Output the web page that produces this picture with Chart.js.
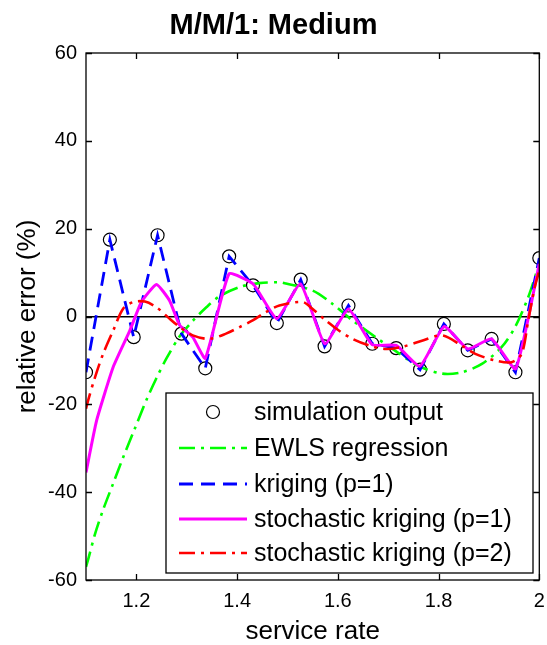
<!DOCTYPE html>
<html><head><meta charset="utf-8">
<script src="https://cdn.jsdelivr.net/npm/chart.js@4.4.0/dist/chart.umd.min.js"></script>
<style>html,body{margin:0;padding:0;background:#fff}canvas{display:block}</style>
</head><body>
<canvas id="c" width="547" height="645"></canvas>
<script>
// ---- data ----
const xSim = [1.1, 1.1474, 1.1947, 1.2421, 1.2895, 1.3368, 1.3842, 1.4316, 1.4789, 1.5263, 1.5737, 1.6211, 1.6684, 1.7158, 1.7632, 1.8105, 1.8579, 1.9053, 1.9526, 2.0];
const ySim = [-12.7, 17.5, -4.7, 18.5, -3.9, -11.8, 13.7, 7.1, -1.5, 8.4, -6.8, 2.5, -6.2, -7.2, -12.1, -1.7, -7.7, -5.1, -12.7, 13.3];
const yKrig = [-12.7, 17.5, -4.7, 18.5, -3.9, -11.8, 13.7, 7.1, -1.5, 8.4, -6.8, 2.5, -6.2, -7.2, -12.1, -1.7, -7.7, -5.1, -12.7, 13.3];

const xEwls = [1.1, 1.105, 1.118, 1.134, 1.154, 1.174, 1.197, 1.22, 1.24, 1.26, 1.286, 1.312, 1.339, 1.365, 1.405, 1.444, 1.484, 1.497, 1.55, 1.589, 1.629, 1.675, 1.715, 1.761, 1.807, 1.846, 1.886, 1.925, 1.952, 1.978, 2.0];
const yEwls = [-57, -55, -49.5, -44, -38, -32, -25.5, -19, -14, -9.5, -4.5, -1, 2.1, 4.6, 6.7, 7.6, 7.8, 7.5, 5.9, 2.9, -0.9, -4.7, -7.9, -11.3, -13.0, -12.7, -10.8, -7.0, -2.4, 4.4, 12];

const xSk1 = [1.1, 1.121, 1.154, 1.187, 1.21, 1.24, 1.266, 1.286, 1.312, 1.337, 1.384, 1.432, 1.479, 1.526, 1.574, 1.621, 1.668, 1.716, 1.763, 1.811, 1.858, 1.905, 1.953, 2.0];
const ySk1 = [-35.5, -23.7, -11.5, -3.2, 3.3, 7.3, 3.6, -2.0, -4.7, -9.5, 9.7, 7.4, -0.5, 7.4, -6.2, 1.7, -6.4, -6.6, -11.3, -2.3, -7.4, -5.1, -11.9, 12.0];

const xSk2 = [1.1, 1.1045, 1.118, 1.134, 1.154, 1.174, 1.194, 1.217, 1.24, 1.263, 1.286, 1.312, 1.345, 1.378, 1.405, 1.431, 1.457, 1.484, 1.53, 1.55, 1.576, 1.602, 1.629, 1.662, 1.695, 1.728, 1.767, 1.807, 1.846, 1.873, 1.912, 1.945, 1.965, 1.978, 1.991, 2.0];
const ySk2 = [-21, -19, -13.8, -8.5, -3.2, 1.8, 3.3, 3.4, 2.1, -0.2, -2.4, -4.3, -5.1, -3.9, -2.4, -0.9, 1.0, 2.5, 3.3, 1.7, -0.9, -3.2, -5.1, -6.6, -7.4, -6.9, -5.5, -4.3, -6.6, -8.5, -10.0, -10.4, -8.5, -0.9, 6.7, 10.5];

const xTicks = [1.2, 1.4, 1.6, 1.8, 2];
const yTicks = [-60, -40, -20, 0, 20, 40, 60];
const seriesNames = ['simulation output', 'EWLS regression', 'kriging (p=1)', 'stochastic kriging (p=1)', 'stochastic kriging (p=2)'];

const pts = (xs, ys) => xs.map((v, i) => ({x: v, y: ys[i]}));
const FONT = "'Liberation Sans', Arial, Helvetica, sans-serif";

const framePlugin = {
  id: 'frameAndLegend',
  afterDatasetsDraw(chart) {
    const {ctx, chartArea: a, scales: {x, y}} = chart;
    ctx.save();
    ctx.strokeStyle = '#000';
    ctx.lineWidth = 1.3;
    ctx.setLineDash([]);
    ctx.strokeRect(a.left, a.top, a.right - a.left, a.bottom - a.top);
    ctx.beginPath();
    xTicks.forEach(v => {
      const px = Math.round(x.getPixelForValue(v)) + 0.5;
      ctx.moveTo(px, a.bottom); ctx.lineTo(px, a.bottom - 6);
      ctx.moveTo(px, a.top); ctx.lineTo(px, a.top + 6);
    });
    yTicks.forEach(v => {
      const py = Math.round(y.getPixelForValue(v)) + 0.5;
      ctx.moveTo(a.left, py); ctx.lineTo(a.left + 6, py);
      ctx.moveTo(a.right, py); ctx.lineTo(a.right - 6, py);
    });
    ctx.stroke();

    // legend box
    const L = 166, T = 393, R = 533, B = 573;
    ctx.fillStyle = '#fff';
    ctx.fillRect(L, T, R - L, B - T);
    ctx.lineWidth = 1.3;
    ctx.strokeRect(L, T, R - L, B - T);
    const rowY = [412, 448, 484, 519, 553];
    const ds = chart.data.datasets;
    ds.forEach((d, i) => {
      const yy = rowY[i];
      if (d.showLine === false) {
        ctx.setLineDash([]);
        ctx.lineWidth = d.pointBorderWidth;
        ctx.strokeStyle = d.pointBorderColor;
        ctx.beginPath();
        ctx.arc(213, yy, d.pointRadius, 0, Math.PI * 2);
        ctx.stroke();
      } else {
        ctx.setLineDash(d.borderDash || []);
        ctx.lineWidth = d.borderWidth;
        ctx.strokeStyle = d.borderColor;
        ctx.beginPath();
        ctx.moveTo(179, yy); ctx.lineTo(247, yy);
        ctx.stroke();
      }
      ctx.setLineDash([]);
      ctx.fillStyle = '#000';
      ctx.font = '25px ' + FONT;
      ctx.textBaseline = 'middle';
      ctx.textAlign = 'left';
      ctx.fillText(d.label, 254, yy + 1);
    });
    ctx.restore();
  }
};

new Chart(document.getElementById('c'), {
  type: 'line',
  data: {
    datasets: [
      {label: seriesNames[0], data: pts(xSim, ySim), showLine: false, pointRadius: 6.5, pointBorderWidth: 1.2,
       pointBorderColor: '#000', pointBackgroundColor: 'rgba(0,0,0,0)', pointStyle: 'circle', order: 5},
      {label: seriesNames[1], data: pts(xEwls, yEwls), borderColor: '#00ff00', borderWidth: 2.6, borderDash: [16, 6, 3, 6],
       pointRadius: 0, tension: 0.3, fill: false, order: 4},
      {label: seriesNames[2], data: pts(xSim, yKrig), borderColor: '#0000ff', borderWidth: 2.8, borderDash: [14, 8],
       pointRadius: 0, tension: 0, fill: false, order: 3},
      {label: seriesNames[3], data: pts(xSk1, ySk1), borderColor: '#ff00ff', borderWidth: 3, borderDash: [],
       pointRadius: 0, tension: 0.15, fill: false, order: 2},
      {label: seriesNames[4], data: pts(xSk2, ySk2), borderColor: '#ff0000', borderWidth: 2.6, borderDash: [16, 6, 3, 6],
       pointRadius: 0, tension: 0.3, fill: false, order: 1}
    ]
  },
  options: {
    responsive: false,
    animation: false,
    devicePixelRatio: 1,
    layout: {padding: {left: 0, right: 0, top: 0, bottom: 0}},
    plugins: {
      legend: {display: false},
      tooltip: {enabled: false},
      title: {display: true, text: 'M/M/1: Medium', color: '#000',
        font: {family: FONT, size: 29, weight: 'bold', lineHeight: 1.2}, padding: {top: 9, bottom: 9.2}}
    },
    scales: {
      x: {
        type: 'linear', min: 1.1, max: 2,
        afterBuildTicks: s => { s.ticks = xTicks.map(v => ({value: v})); },
        afterFit: s => { s.height = 65; s.paddingRight = 6; },
        grid: {display: false, drawTicks: false},
        border: {display: false},
        ticks: {color: '#000', padding: 9, font: {family: FONT, size: 20}, maxRotation: 0,
          callback: v => String(v)},
        title: {display: true, text: 'service rate', color: '#000', font: {family: FONT, size: 26, lineHeight: 1.0}, padding: {top: 0, bottom: 0}}
      },
      y: {
        type: 'linear', min: -60, max: 60,
        afterBuildTicks: s => { s.ticks = yTicks.map(v => ({value: v})); },
        afterFit: s => { s.width = 86; },
        grid: {drawTicks: false, color: c => (c.tick && c.tick.value === 0) ? '#000' : 'rgba(0,0,0,0)', lineWidth: 1.4},
        border: {display: false},
        ticks: {color: '#000', padding: 9, font: {family: FONT, size: 20}, callback: v => String(v)},
        title: {display: true, text: 'relative error (%)', color: '#000', font: {family: FONT, size: 26, lineHeight: 1.2}, padding: {top: 12, bottom: 0}}
      }
    }
  },
  plugins: [framePlugin]
});
</script>
</body></html>
